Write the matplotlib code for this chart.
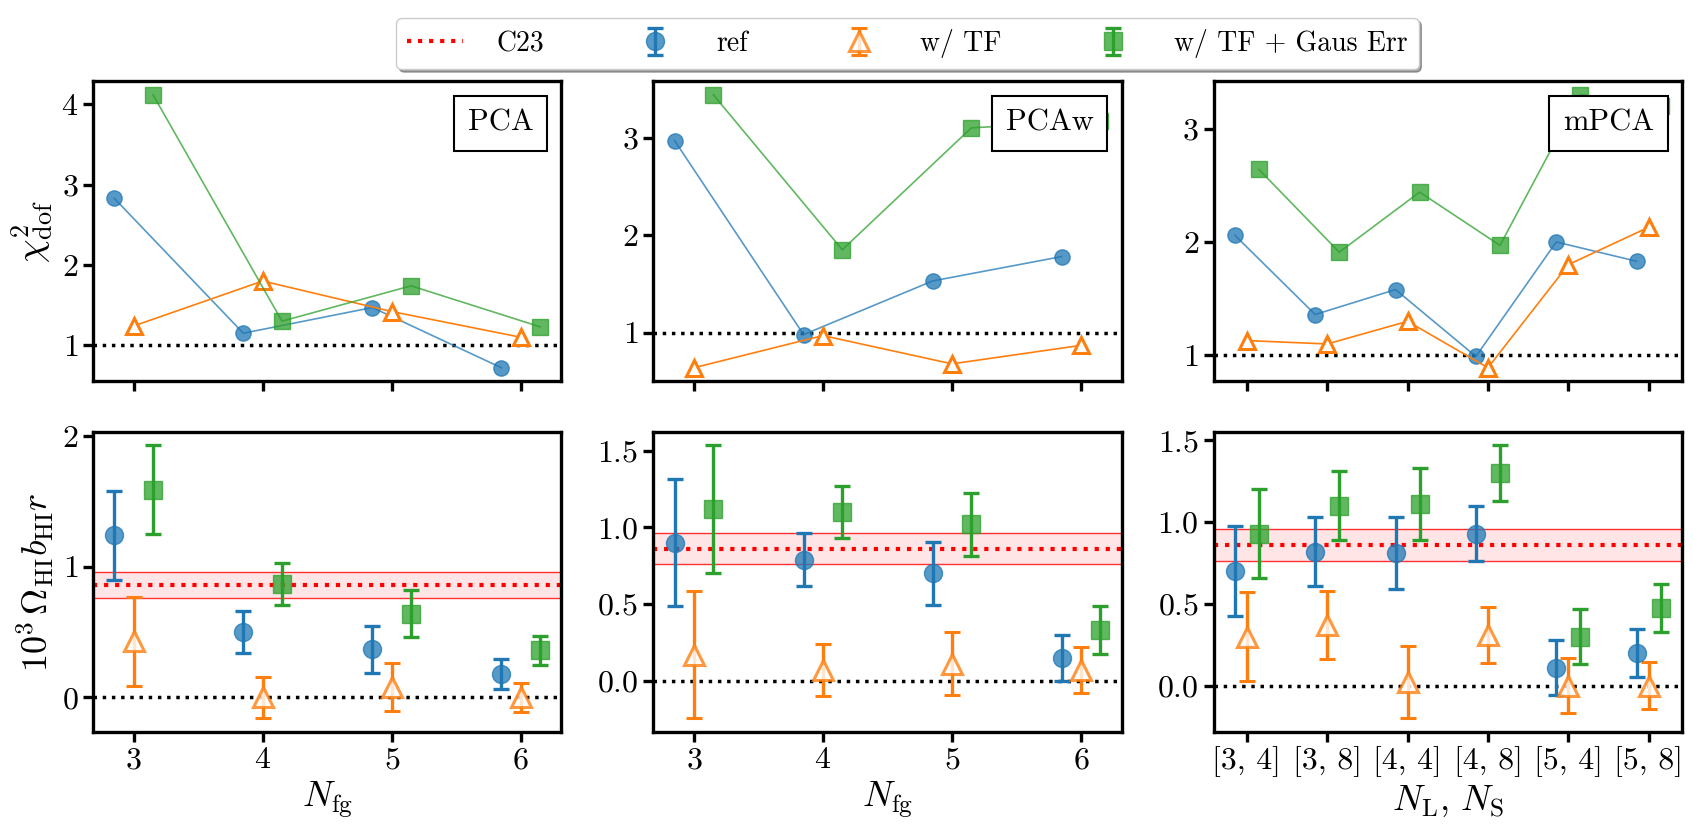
import numpy as np
import matplotlib
matplotlib.use("Agg")
import matplotlib.pyplot as plt

plt.rcParams.update({
    "font.family": "serif",
    "font.serif": ["cmr10", "DejaVu Serif"],
    "mathtext.fontset": "cm",
    "axes.formatter.use_mathtext": True,
    "axes.unicode_minus": False,
    "axes.linewidth": 2.4,
    "xtick.major.width": 2.4,
    "ytick.major.width": 2.4,
    "xtick.major.size": 7,
    "ytick.major.size": 7,
    "xtick.labelsize": 23,
    "ytick.labelsize": 23,
})

# ---- data ----
methods = ["PCA", "PCAw", "mPCA"]
nfg = [3, 4, 5, 6]
nl_ns = ["[3, 4]", "[3, 8]", "[4, 4]", "[4, 8]", "[5, 4]", "[5, 8]"]

# reduced chi2
chi2_ref = [[2.83, 1.15, 1.47, 0.72],
            [2.97, 0.98, 1.53, 1.78],
            [2.06, 1.36, 1.58, 0.99, 2.00, 1.83]]
chi2_tf = [[1.24, 1.80, 1.42, 1.10],
           [0.64, 0.97, 0.68, 0.87],
           [1.13, 1.10, 1.30, 0.89, 1.80, 2.13]]
chi2_gaus = [[4.12, 1.30, 1.74, 1.23],
             [3.44, 1.85, 3.10, 3.17],
             [2.64, 1.91, 2.44, 1.97, 3.30, 3.20]]

# 10^3 Omega_HI b_HI r and errors
amp_ref = [[1.24, 0.50, 0.37, 0.18],
           [0.90, 0.79, 0.70, 0.15],
           [0.70, 0.82, 0.81, 0.93, 0.11, 0.20]]
err_ref = [[0.34, 0.16, 0.18, 0.115],
           [0.415, 0.17, 0.205, 0.15],
           [0.275, 0.21, 0.22, 0.17, 0.17, 0.145]]
amp_tf = [[0.43, 0.0, 0.08, 0.0],
          [0.17, 0.07, 0.11, 0.07],
          [0.30, 0.37, 0.02, 0.31, 0.0, 0.0]]
err_tf = [[0.34, 0.16, 0.18, 0.11],
          [0.415, 0.17, 0.205, 0.15],
          [0.27, 0.21, 0.22, 0.17, 0.17, 0.145]]
amp_gaus = [[1.59, 0.87, 0.64, 0.36],
            [1.12, 1.10, 1.02, 0.33],
            [0.93, 1.10, 1.11, 1.30, 0.30, 0.475]]
err_gaus = [[0.34, 0.16, 0.18, 0.11],
            [0.415, 0.17, 0.205, 0.155],
            [0.27, 0.21, 0.22, 0.17, 0.17, 0.145]]

c23_val = 0.86
c23_err = 0.10

chi2_yticks = [[1, 2, 3, 4], [1, 2, 3], [1, 2, 3]]
amp_yticks = [[0, 1, 2], [0.0, 0.5, 1.0, 1.5], [0.0, 0.5, 1.0, 1.5]]

C_REF, C_TF, C_GAUS = "tab:blue", "tab:orange", "tab:green"
dx = 0.15

fig, axes = plt.subplots(2, 3, figsize=(16.93, 8.36), dpi=100)
fig.subplots_adjust(left=0.0549, right=0.9935, bottom=0.1244, top=0.9031,
                    wspace=0.196, hspace=0.167)

for j, name in enumerate(methods):
    x = np.arange(len(nl_ns)) if j == 2 else np.array(nfg, dtype=float)
    ax_t, ax_b = axes[0, j], axes[1, j]

    # top row: reduced chi2
    ax_t.axhline(1, color="k", ls=":", lw=2.5, zorder=1)
    ax_t.plot(x - dx, chi2_ref[j], "-o", color=C_REF, lw=1.2, ms=11, alpha=0.75)
    ax_t.plot(x, chi2_tf[j], "-^", color=C_TF, lw=1.2, ms=12, mfc="white",
              mew=2.2)
    ax_t.plot(x + dx, chi2_gaus[j], "-s", color=C_GAUS, lw=1.2, ms=11, alpha=0.75)
    ax_t.set_yticks(chi2_yticks[j])
    ax_t.text(0.94, 0.905, name, transform=ax_t.transAxes, ha="right", va="top",
              fontsize=22, zorder=10,
              bbox=dict(boxstyle="square,pad=0.45", fc="white", ec="k", lw=1.5))

    # bottom row: amplitude
    ax_b.axhspan(c23_val - c23_err, c23_val + c23_err, color="red", alpha=0.1, lw=0)
    ax_b.axhline(c23_val - c23_err, color="red", lw=1, alpha=0.8)
    ax_b.axhline(c23_val + c23_err, color="red", lw=1, alpha=0.8)
    ax_b.axhline(c23_val, color="red", ls=":", lw=3, label="C23")
    ax_b.axhline(0, color="k", ls=":", lw=2.5)
    ax_b.errorbar(x - dx, amp_ref[j], yerr=err_ref[j], fmt="o", color=C_REF,
                  ms=13, elinewidth=2.4, capsize=6, capthick=2.4,
                  mfc=(0.12, 0.47, 0.71, 0.75), mec=(0.12, 0.47, 0.71, 0.75),
                  label="ref")
    ax_b.errorbar(x, amp_tf[j], yerr=err_tf[j], fmt="^", color=C_TF,
                  ms=14, elinewidth=2.4, capsize=6, capthick=2.4,
                  mfc=(1, 1, 1, 0.8), mew=2.2, label="w/ TF")
    ax_b.errorbar(x + dx, amp_gaus[j], yerr=err_gaus[j], fmt="s", color=C_GAUS,
                  ms=13, elinewidth=2.4, capsize=6, capthick=2.4,
                  mfc=(0.17, 0.63, 0.17, 0.75), mec=(0.17, 0.63, 0.17, 0.75),
                  label="w/ TF + Gaus Err")
    ax_b.set_yticks(amp_yticks[j])

    if j == 2:
        for ax in (ax_t, ax_b):
            ax.set_xticks(x)
        ax_t.set_xticklabels([])
        ax_b.set_xticklabels(nl_ns)
        ax_b.set_xlabel(r"$N_{\mathrm{L}},\, N_{\mathrm{S}}$", fontsize=26)
    else:
        for ax in (ax_t, ax_b):
            ax.set_xticks(nfg)
        ax_t.set_xticklabels([])
        ax_b.set_xlabel(r"$N_{\mathrm{fg}}$", fontsize=26)

axes[0, 0].set_ylabel(r"$\chi^2_{\mathrm{dof}}$", fontsize=27)
axes[1, 0].set_ylabel(r"$10^3\,\Omega_{\mathrm{HI}}b_{\mathrm{HI}}r$", fontsize=26)

# legend sits centred over the middle column
handles, labels = axes[1, 0].get_legend_handles_labels()
fig.legend(handles, labels, loc="upper center", bbox_to_anchor=(0.536, 0.995),
           ncol=4, fontsize=20, shadow=True, fancybox=True, framealpha=1,
           columnspacing=3.0, handletextpad=1.2)

fig.savefig("out.png", dpi=100)
